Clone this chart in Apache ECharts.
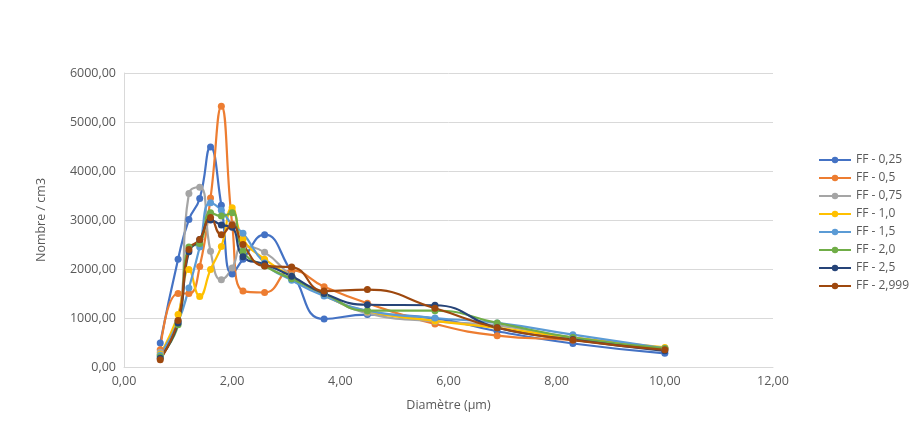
<!DOCTYPE html>
<html><head><meta charset="utf-8">
<script src="https://cdn.jsdelivr.net/npm/echarts@6/dist/echarts.min.js"></script>
<style>html,body{margin:0;padding:0;background:#fff}#c{width:913px;height:427px}</style>
</head><body><div id="c"></div>
<script>
const diam = [0.67, 1.0, 1.2, 1.4, 1.6, 1.8, 2.0, 2.2, 2.6, 3.1, 3.7, 4.5, 5.75, 6.9, 8.3, 10.0];
const seriesNames = ["FF - 0,25","FF - 0,5","FF - 0,75","FF - 1,0","FF - 1,5","FF - 2,0","FF - 2,5","FF - 2,999"];
const ff025 = [490, 2200, 3010, 3440, 4490, 3300, 1900, 2200, 2700, 1940, 980, 1070, 990, 730, 480, 280];
const ff05  = [350, 1500, 1500, 2050, 3450, 5320, 2920, 1550, 1520, 1970, 1640, 1300, 880, 640, 550, 380];
const ff075 = [300, 950, 3540, 3670, 2360, 1780, 2020, 2460, 2340, 1860, 1480, 1100, 930, 850, 600, 380];
const ff10  = [260, 1070, 1990, 1440, 1990, 2460, 3250, 2610, 2200, 1850, 1460, 1140, 940, 800, 600, 400];
const ff15  = [240, 920, 1610, 2450, 3350, 3200, 2900, 2730, 2120, 1770, 1450, 1150, 1000, 900, 660, 380];
const ff20  = [210, 860, 2450, 2520, 3150, 3080, 3150, 2360, 2060, 1800, 1500, 1150, 1150, 900, 600, 380];
const ff25  = [180, 900, 2350, 2600, 3000, 2900, 2850, 2250, 2100, 1850, 1500, 1270, 1260, 800, 560, 330];
const ff2999= [150, 950, 2400, 2600, 3050, 2700, 2900, 2500, 2060, 2040, 1550, 1580, 1200, 800, 550, 350];
const allVals = [ff025, ff05, ff075, ff10, ff15, ff20, ff25, ff2999];
const colors = ["#4472C4","#ED7D31","#A5A5A5","#FFC000","#5B9BD5","#70AD47","#264478","#9E480E"];
const fmt = v => v.toFixed(2).replace('.', ',');
const chart = echarts.init(document.getElementById('c'), null, {renderer:'canvas'});
const txt = {fontFamily:'Open Sans', color:'#595959', fontSize:12.5};
chart.setOption({
  animation:false,
  color: colors,
  textStyle:{fontFamily:'Open Sans'},
  grid:{left:124, right:140, top:73, bottom:60, containLabel:false},
  legend:{
    orient:'vertical', left:813, top:149, itemGap:6, itemWidth:32, itemHeight:8,
    textStyle:Object.assign({}, txt, {fontSize:12}),
    data: seriesNames
  },
  xAxis:{
    type:'value', min:0, max:12, interval:2,
    name:'Diamètre (µm)', nameLocation:'middle', nameGap:32,
    nameTextStyle:Object.assign({}, txt),
    axisLine:{show:true, lineStyle:{color:'#d9d9d9', width:1}},
    axisTick:{show:false},
    axisLabel:Object.assign({}, txt, {formatter: fmt, margin:8}),
    splitLine:{show:false}
  },
  yAxis:{
    type:'value', min:0, max:6000, interval:1000,
    name:'Nombre / cm3', nameLocation:'middle', nameGap:76, nameRotate:90,
    nameTextStyle:Object.assign({}, txt),
    axisLine:{show:true, lineStyle:{color:'#d9d9d9', width:1}},
    axisTick:{show:false},
    axisLabel:Object.assign({}, txt, {formatter: fmt, margin:8}),
    splitLine:{show:true, lineStyle:{color:'#d9d9d9', width:1}}
  },
  series: seriesNames.map((n, i) => ({
    name:n, type:'line', smooth:0.5,
    symbol:'circle', symbolSize:7,
    lineStyle:{width:2.2, color:colors[i]},
    itemStyle:{color:colors[i]},
    data: diam.map((d, k) => [d, allVals[i][k]])
  }))
});
</script></body></html>
